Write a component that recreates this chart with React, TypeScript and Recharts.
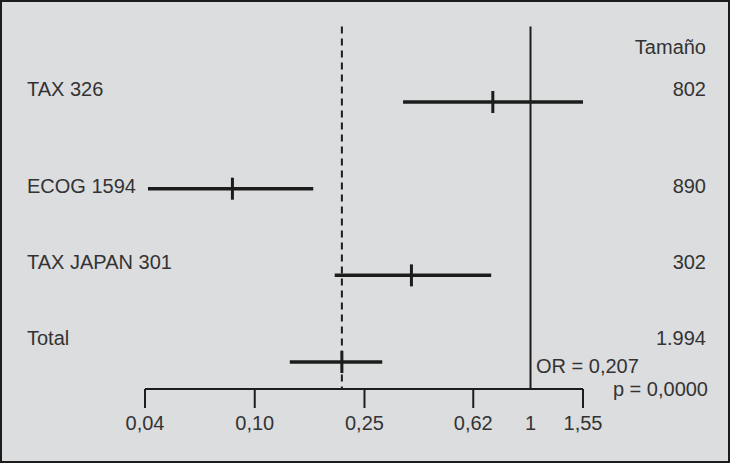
import React from "react";
import {
  ScatterChart,
  Scatter,
  XAxis,
  YAxis,
  ErrorBar,
  ReferenceLine,
  Customized,
} from "recharts";

// ---- data ----
const studies = ["TAX 326", "ECOG 1594", "TAX JAPAN 301", "Total"];
const sizes = ["802", "890", "302", "1.994"];
const oddsRatio = [0.73, 0.083, 0.37, 0.207];
const ciLow = [0.345, 0.041, 0.195, 0.134];
const ciHigh = [1.55, 0.163, 0.72, 0.29];
const xTicks = [0.04, 0.1, 0.25, 0.62, 1, 1.55];
const sizeHeader = "Tamaño";
const pooledOR = 0.207;
const orText = "OR = 0,207";
const pText = "p = 0,0000";

// ---- layout (row units on the y axis) ----
const Y_DOMAIN: [number, number] = [-1.177, 3.311];
const LABEL_POS = [-0.15, 0.97, 1.85, 2.72];
const HEADER_POS = -0.635;
const LINE_TOP = -0.87;

const FONT = "'Liberation Sans', Arial, sans-serif";
const FS = 20;
const INK = "#1c1c1c";
const TEXT = "#333333";

const rows = studies.map((s, i) => ({
  name: s,
  or: oddsRatio[i],
  row: i,
  err: [oddsRatio[i] - ciLow[i], ciHigh[i] - oddsRatio[i]],
}));

const fmt = (v: number) => (v === 1 ? "1" : v.toFixed(2).replace(".", ","));

const XTick = (props: any) => {
  const { x, y, payload } = props;
  const v = payload.value;
  return (
    <g>
      {v !== 1 && (
        <line x1={x} x2={x} y1={y} y2={y + 19} stroke={INK} strokeWidth={2} />
      )}
      <text
        x={x}
        y={y + 34}
        textAnchor="middle"
        dominantBaseline="central"
        fontFamily={FONT}
        fontSize={FS}
        fill={TEXT}
      >
        {fmt(v)}
      </text>
    </g>
  );
};

const RowTick = (props: any) => {
  const { y, payload } = props;
  const v = payload.value;
  let left = "";
  let right = "";
  if (v === HEADER_POS) {
    right = sizeHeader;
  } else {
    const idx = LABEL_POS.indexOf(v);
    if (idx < 0) return null;
    left = studies[idx];
    right = sizes[idx];
  }
  return (
    <g fontFamily={FONT} fontSize={FS} fill={TEXT}>
      {left && (
        <text x={27} y={y} textAnchor="start" dominantBaseline="central">
          {left}
        </text>
      )}
      <text x={706} y={y} textAnchor="end" dominantBaseline="central">
        {right}
      </text>
    </g>
  );
};

const Marker = (props: any) => {
  const { cx, cy } = props;
  return (
    <line x1={cx} x2={cx} y1={cy - 11} y2={cy + 11} stroke={INK} strokeWidth={3} />
  );
};

const Annotations = () => (
  <g fontFamily={FONT} fontSize={FS} fill={TEXT}>
    <text x={536} y={366} dominantBaseline="central" textAnchor="start">
      {orText}
    </text>
    <text x={708} y={389} dominantBaseline="central" textAnchor="end">
      {pText}
    </text>
  </g>
);

export default function App() {
  return (
    <div
      style={{
        position: "absolute",
        left: 0,
        top: 0,
        width: 730,
        height: 463,
        background: "#dcdddf",
      }}
    >
      <ScatterChart
        width={730}
        height={463}
        margin={{ top: 0, right: 147, bottom: 0, left: 0 }}
        style={{ fontFamily: FONT }}
      >
        <XAxis
          dataKey="or"
          type="number"
          scale="log"
          domain={[0.04, 1.55]}
          ticks={xTicks}
          allowDataOverflow
          interval={0}
          height={74}
          tickSize={0}
          tickMargin={0}
          tickLine={false}
          axisLine={{ stroke: INK, strokeWidth: 2 }}
          tick={<XTick />}
        />
        <YAxis
          yAxisId="left"
          dataKey="row"
          type="number"
          domain={Y_DOMAIN}
          reversed
          width={145}
          ticks={[HEADER_POS, ...LABEL_POS]}
          interval={0}
          axisLine={false}
          tickLine={false}
          tick={<RowTick />}
        />
        <ReferenceLine
          yAxisId="left"
          segment={[
            { x: pooledOR, y: LINE_TOP },
            { x: pooledOR, y: Y_DOMAIN[1] },
          ]}
          stroke={INK}
          strokeWidth={2}
          strokeDasharray="7 5"
          ifOverflow="visible"
        />
        <ReferenceLine
          yAxisId="left"
          segment={[
            { x: 1, y: LINE_TOP },
            { x: 1, y: Y_DOMAIN[1] },
          ]}
          stroke={INK}
          strokeWidth={2}
          ifOverflow="visible"
        />
        <Scatter
          yAxisId="left"
          data={rows}
          dataKey="row"
          shape={<Marker />}
          isAnimationActive={false}
        >
          <ErrorBar
            dataKey="err"
            direction="x"
            width={0}
            stroke={INK}
            strokeWidth={3.5}
            isAnimationActive={false}
          />
        </Scatter>
        <Customized component={Annotations} />
      </ScatterChart>
      <div
        style={{
          position: "absolute",
          inset: 0,
          border: "2px solid #1c1c1c",
          boxSizing: "border-box",
          pointerEvents: "none",
        }}
      />
    </div>
  );
}
